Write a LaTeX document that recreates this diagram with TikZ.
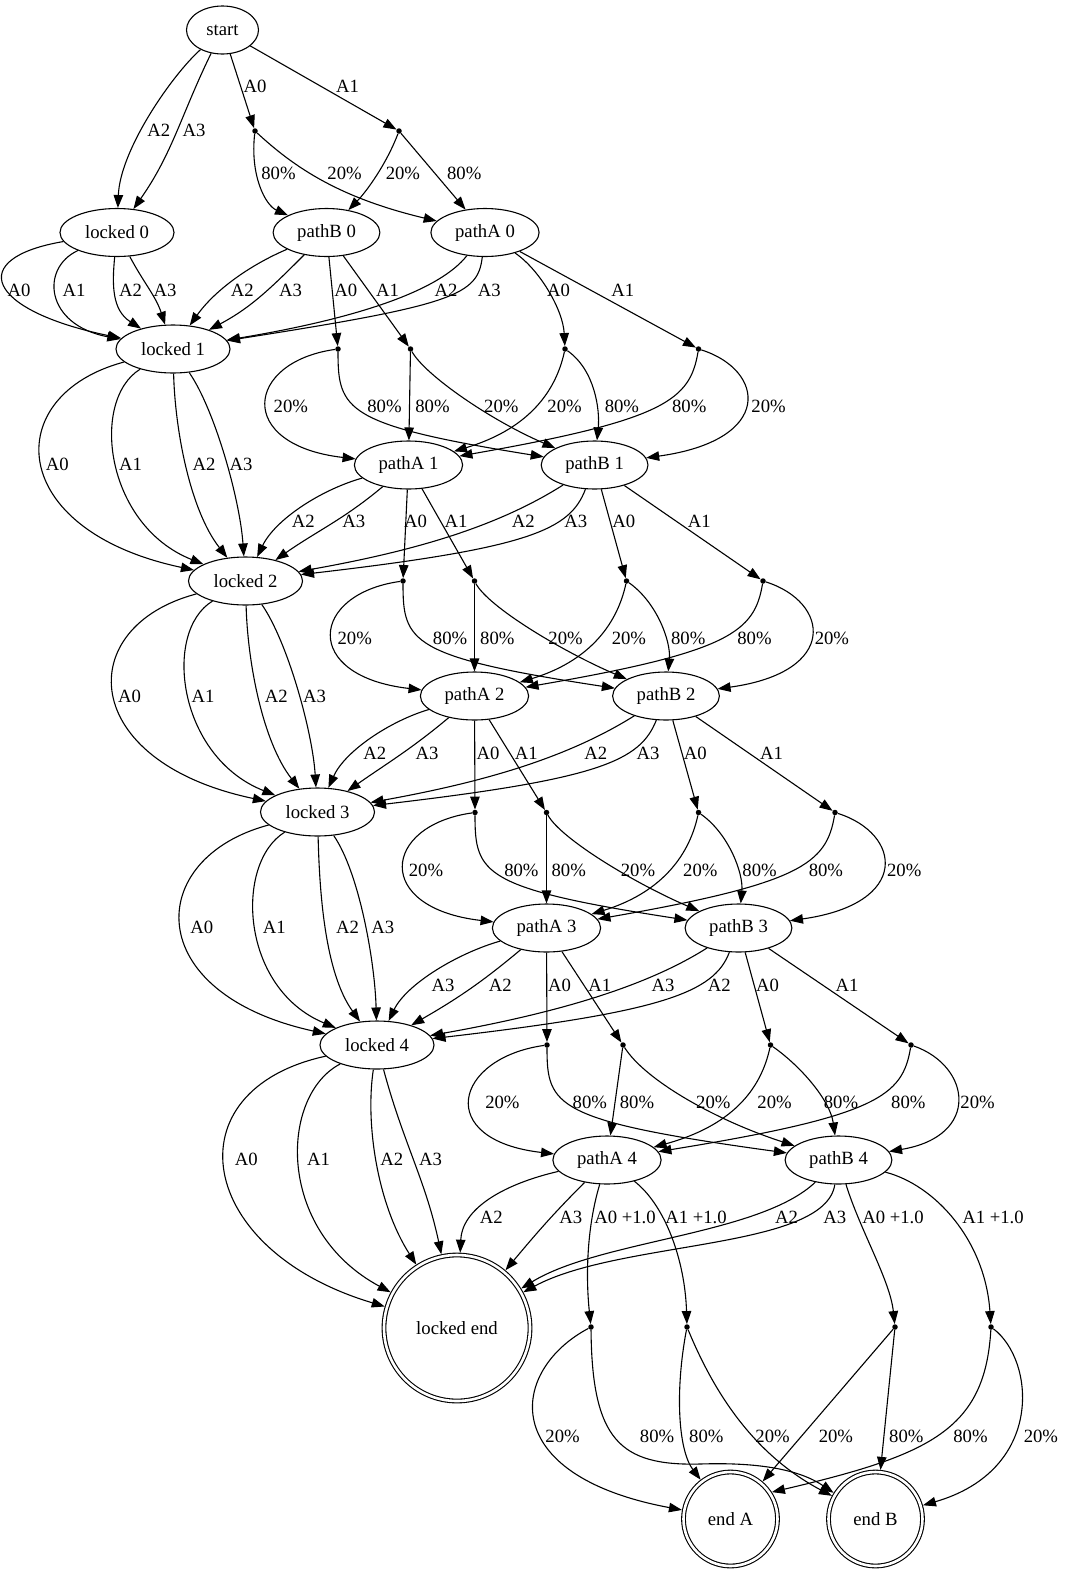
\documentclass[tikz,border=0pt]{standalone}
\usepackage{fontspec}
\setmainfont{Liberation Serif}
\usetikzlibrary{arrows.meta, shapes.geometric}

\begin{document}
\begin{tikzpicture}[
  x=1pt, y=-1pt,
  font=\fontsize{18.7pt}{22pt}\selectfont,
  state/.style={ellipse, draw, line width=1.1pt, inner xsep=8.4pt, inner ysep=0pt, minimum height=48pt},
  final/.style={circle, draw, line width=1.1pt, double, double distance=2.6pt, inner sep=0pt, outer sep=2.4pt},
  chance/.style={circle, fill, inner sep=0pt, minimum size=5.5pt},
  trans/.style={-{Triangle[length=13pt, width=9.5pt]}, line width=1.1pt},
  lbl/.style={inner sep=0pt}
]
\path[use as bounding box, fill=white] (0,0) rectangle (1066,1575);

\node[state, minimum width=72pt] (start) at (222.5,30) {start};
\node[state] (lk0) at (117,232.5) {locked 0};
\node[state] (pb0) at (326.5,232.5) {pathB 0};
\node[state] (pa0) at (485,232.5) {pathA 0};
\node[state] (lk1) at (173,349) {locked 1};
\node[state] (pa1) at (408.5,465) {pathA 1};
\node[state] (pb1) at (594.6,465) {pathB 1};
\node[state] (lk2) at (245.5,581) {locked 2};
\node[state] (pa2) at (474.5,696) {pathA 2};
\node[state] (pb2) at (666,696) {pathB 2};
\node[state] (lk3) at (317.5,812) {locked 3};
\node[state] (pa3) at (546.5,928) {pathA 3};
\node[state] (pb3) at (738.5,928) {pathB 3};
\node[state] (lk4) at (377,1045) {locked 4};
\node[state] (pa4) at (607,1160) {pathA 4};
\node[state] (pb4) at (838.5,1160) {pathB 4};
\node[final, minimum size=146pt] (lkend) at (457,1328) {locked end};
\node[final, minimum size=94pt] (endA) at (730.5,1519) {end A};
\node[final, minimum size=94pt] (endB) at (875.5,1519) {end B};

\node[chance] (cs0) at (255,131) {};
\node[chance] (cs1) at (399,131) {};
\node[chance] (cb0a0) at (338,349) {};
\node[chance] (cb0a1) at (410.5,349) {};
\node[chance] (ca0a0) at (565,349) {};
\node[chance] (ca0a1) at (698.5,349) {};
\node[chance] (ca1a0) at (403,581) {};
\node[chance] (ca1a1) at (474.5,581) {};
\node[chance] (cb1a0) at (626.5,581) {};
\node[chance] (cb1a1) at (763,581) {};
\node[chance] (ca2a0) at (475,812.5) {};
\node[chance] (ca2a1) at (546.5,812.5) {};
\node[chance] (cb2a0) at (698.5,812.5) {};
\node[chance] (cb2a1) at (835,812.5) {};
\node[chance] (ca3a0) at (547,1045) {};
\node[chance] (ca3a1) at (623,1045) {};
\node[chance] (cb3a0) at (770.5,1045) {};
\node[chance] (cb3a1) at (911,1045) {};
\node[chance] (ca4a0) at (591,1327) {};
\node[chance] (ca4a1) at (687,1327) {};
\node[chance] (cb4a0) at (895,1327) {};
\node[chance] (cb4a1) at (991,1327) {};

\draw[trans] (start) .. controls (172,75) and (120,150) .. (lk0) node[lbl] at (158.9,130) {A2};
\draw[trans] (start) to[out=244,in=55] (lk0) node[lbl] at (194,130) {A3};
\draw[trans] (start) -- (cs0) node[lbl] at (255,86.5) {A0};
\draw[trans] (start) -- (cs1) node[lbl] at (347.6,86.5) {A1};
\draw[trans] (cs0) .. controls (250,175) and (265,205) .. (pb0) node[lbl] at (278.5,173.5) {80\%};
\draw[trans] (cs0) .. controls (295,168) and (340,198) .. (pa0) node[lbl] at (344.6,173.5) {20\%};
\draw[trans] (cs1) .. controls (386,165) and (366,192) .. (pb0) node[lbl] at (402.9,173.5) {20\%};
\draw[trans] (cs1) -- (pa0) node[lbl] at (464.2,173.5) {80\%};

\draw[trans] (lk0) .. controls (-34,258) and (-15,310) .. (lk1) node[lbl] at (19,290) {A0};
\draw[trans] (lk0) .. controls (40,268) and (45,325) .. (lk1) node[lbl] at (74,290) {A1};
\draw[trans] (lk0) .. controls (112,285) and (112,310) .. (lk1) node[lbl] at (130.5,290) {A2};
\draw[trans] (lk0) to[out=-62,in=108] (lk1) node[lbl] at (165,290) {A3};
\draw[trans] (pb0) .. controls (250,265) and (215,290) .. (lk1) node[lbl] at (242.3,290) {A2};
\draw[trans] (pb0) to[out=225,in=28] (lk1) node[lbl] at (290.5,290) {A3};
\draw[trans] (pb0) -- (cb0a0) node[lbl] at (345.8,290) {A0};
\draw[trans] (pb0) -- (cb0a1) node[lbl] at (387.5,290) {A1};
\draw[trans] (pa0) .. controls (440,290) and (360,318) .. (lk1) node[lbl] at (446,290) {A2};
\draw[trans] (pa0) .. controls (478,295) and (455,305) .. (lk1) node[lbl] at (489.3,290) {A3};
\draw[trans] (pa0) .. controls (540,270) and (563,310) .. (ca0a0) node[lbl] at (558.6,290) {A0};
\draw[trans] (pa0) -- (ca0a1) node[lbl] at (622.9,290) {A1};

\draw[trans] (cb0a0) .. controls (245,362) and (235,445) .. (pa1) node[lbl] at (290.8,406) {20\%};
\draw[trans] (cb0a0) .. controls (338,410) and (345,425) .. (pb1) node[lbl] at (384.5,406) {80\%};
\draw[trans] (cb0a1) -- (pa1) node[lbl] at (432.5,406) {80\%};
\draw[trans] (cb0a1) .. controls (425,375) and (490,420) .. (pb1) node[lbl] at (501.3,406) {20\%};
\draw[trans] (ca0a0) .. controls (555,395) and (525,430) .. (pa1) node[lbl] at (564.6,406) {20\%};
\draw[trans] (ca0a0) .. controls (595,370) and (600,410) .. (pb1) node[lbl] at (621.9,406) {80\%};
\draw[trans] (ca0a1) .. controls (690,400) and (665,420) .. (pa1) node[lbl] at (689.2,406) {80\%};
\draw[trans] (ca0a1) .. controls (765,370) and (775,440) .. (pb1) node[lbl] at (768.6,406) {20\%};

\draw[trans] (lk1) .. controls (0,395) and (5,530) .. (lk2) node[lbl] at (57.3,464.5) {A0};
\draw[trans] (lk1) .. controls (90,400) and (105,525) .. (lk2) node[lbl] at (130.6,464.5) {A1};
\draw[trans] (lk1) .. controls (175,430) and (190,510) .. (lk2) node[lbl] at (204,464.5) {A2};
\draw[trans] (lk1) .. controls (215,410) and (240,500) .. (lk2) node[lbl] at (241.1,464.5) {A3};
\draw[trans] (pa1) .. controls (320,490) and (275,520) .. (lk2) node[lbl] at (303.4,521.5) {A2};
\draw[trans] (pa1) to[out=-140,in=35] (lk2) node[lbl] at (353.7,521.5) {A3};
\draw[trans] (pa1) -- (ca1a0) node[lbl] at (415.5,521.5) {A0};
\draw[trans] (pa1) -- (ca1a1) node[lbl] at (456.1,521.5) {A1};
\draw[trans] (pb1) .. controls (500,525) and (420,550) .. (lk2) node[lbl] at (523.4,521.5) {A2};
\draw[trans] (pb1) .. controls (570,530) and (530,548) .. (lk2) node[lbl] at (575.7,521.5) {A3};
\draw[trans] (pb1) -- (cb1a0) node[lbl] at (623.9,521.5) {A0};
\draw[trans] (pb1) -- (cb1a1) node[lbl] at (699.3,521.5) {A1};

\draw[trans] (ca1a0) .. controls (310,594) and (301,676) .. (pa2) node[lbl] at (354.7,638) {20\%};
\draw[trans] (ca1a0) .. controls (403,642) and (410,657) .. (pb2) node[lbl] at (450.1,638) {80\%};
\draw[trans] (ca1a1) -- (pa2) node[lbl] at (497.3,638) {80\%};
\draw[trans] (ca1a1) .. controls (488.5,607) and (561.4,651) .. (pb2) node[lbl] at (565.6,638) {20\%};
\draw[trans] (cb1a0) .. controls (616.5,627) and (586.5,662) .. (pa2) node[lbl] at (628.9,638) {20\%};
\draw[trans] (cb1a0) .. controls (656.5,602) and (671,641) .. (pb2) node[lbl] at (688.2,638) {80\%};
\draw[trans] (cb1a1) .. controls (754.5,632) and (729.5,652) .. (pa2) node[lbl] at (754.5,638) {80\%};
\draw[trans] (cb1a1) .. controls (829.5,602) and (839.5,672) .. (pb2) node[lbl] at (831.9,638) {20\%};

\draw[trans] (lk2) .. controls (72.5,626.5) and (77.5,761.5) .. (lk3) node[lbl] at (129.6,696.5) {A0};
\draw[trans] (lk2) .. controls (162.5,631.5) and (177.5,756.5) .. (lk3) node[lbl] at (203,696.5) {A1};
\draw[trans] (lk2) .. controls (247.5,661.5) and (262.5,741.5) .. (lk3) node[lbl] at (276.3,696.5) {A2};
\draw[trans] (lk2) .. controls (287.5,641.5) and (312.5,731.5) .. (lk3) node[lbl] at (314.5,696.5) {A3};
\draw[trans] (pa2) .. controls (390,721) and (345,751) .. (lk3) node[lbl] at (374.8,753.5) {A2};
\draw[trans] (pa2) to[out=-140,in=35] (lk3) node[lbl] at (427,753.5) {A3};
\draw[trans] (pa2) -- (ca2a0) node[lbl] at (488,753.5) {A0};
\draw[trans] (pa2) -- (ca2a1) node[lbl] at (526.4,753.5) {A1};
\draw[trans] (pb2) .. controls (570,756) and (490,781) .. (lk3) node[lbl] at (595.8,753.5) {A2};
\draw[trans] (pb2) .. controls (640,761) and (600,779) .. (lk3) node[lbl] at (648,753.5) {A3};
\draw[trans] (pb2) -- (cb2a0) node[lbl] at (695.3,753.5) {A0};
\draw[trans] (pb2) -- (cb2a1) node[lbl] at (771.6,753.5) {A1};

\draw[trans] (ca2a0) .. controls (382,825.5) and (373,908) .. (pa3) node[lbl] at (426,870) {20\%};
\draw[trans] (ca2a0) .. controls (475,873.5) and (482,888.5) .. (pb3) node[lbl] at (521.4,870) {80\%};
\draw[trans] (ca2a1) -- (pa3) node[lbl] at (568.7,870) {80\%};
\draw[trans] (ca2a1) .. controls (560.5,838.5) and (633.9,883) .. (pb3) node[lbl] at (638,870) {20\%};
\draw[trans] (cb2a0) .. controls (688.5,858.5) and (658.5,893.5) .. (pa3) node[lbl] at (700.3,870) {20\%};
\draw[trans] (cb2a0) .. controls (728.5,833.5) and (743.5,873) .. (pb3) node[lbl] at (759.6,870) {80\%};
\draw[trans] (cb2a1) .. controls (826.5,863.5) and (801.5,883.5) .. (pa3) node[lbl] at (825.9,870) {80\%};
\draw[trans] (cb2a1) .. controls (901.5,833.5) and (911.5,903.5) .. (pb3) node[lbl] at (904.2,870) {20\%};

\draw[trans] (lk3) .. controls (144.5,858) and (140,993) .. (lk4) node[lbl] at (201.9,927.5) {A0};
\draw[trans] (lk3) .. controls (234.5,863) and (240,988) .. (lk4) node[lbl] at (274.3,927.5) {A1};
\draw[trans] (lk3) .. controls (319.5,893) and (325,973) .. (lk4) node[lbl] at (347.6,927.5) {A2};
\draw[trans] (lk3) .. controls (359.5,873) and (375,963) .. (lk4) node[lbl] at (382.8,927.5) {A3};
\draw[trans] (pa3) .. controls (458,953) and (406.5,984) .. (lk4) node[lbl] at (443.1,985.5) {A3};
\draw[trans] (pa3) to[out=-140,in=30] (lk4) node[lbl] at (500.3,985.5) {A2};
\draw[trans] (pa3) -- (ca3a0) node[lbl] at (559.6,985.5) {A0};
\draw[trans] (pa3) -- (ca3a1) node[lbl] at (599.8,985.5) {A1};
\draw[trans] (pb3) .. controls (644,988) and (551.5,1014) .. (lk4) node[lbl] at (663.1,985.5) {A3};
\draw[trans] (pb3) .. controls (714,993) and (661.5,1012) .. (lk4) node[lbl] at (719.4,985.5) {A2};
\draw[trans] (pb3) -- (cb3a0) node[lbl] at (767.6,985.5) {A0};
\draw[trans] (pb3) -- (cb3a1) node[lbl] at (847,985.5) {A1};

\draw[trans] (ca3a0) .. controls (454,1058) and (433.5,1140) .. (pa4) node[lbl] at (502.4,1102) {20\%};
\draw[trans] (ca3a0) .. controls (547,1106) and (554,1121) .. (pb4) node[lbl] at (589.8,1102) {80\%};
\draw[trans] (ca3a1) -- (pa4) node[lbl] at (637,1102) {80\%};
\draw[trans] (ca3a1) .. controls (645,1080) and (715,1120) .. (pb4) node[lbl] at (713.3,1102) {20\%};
\draw[trans] (cb3a0) .. controls (760.5,1091) and (730.5,1126) .. (pa4) node[lbl] at (774.6,1102) {20\%};
\draw[trans] (cb3a0) .. controls (800.5,1066) and (830,1100) .. (pb4) node[lbl] at (841,1102) {80\%};
\draw[trans] (cb3a1) .. controls (902.5,1096) and (877.5,1116) .. (pa4) node[lbl] at (908.3,1102) {80\%};
\draw[trans] (cb3a1) .. controls (971,1066) and (981,1136) .. (pb4) node[lbl] at (977.6,1102) {20\%};

\draw[trans] (lk4) .. controls (170,1090) and (195,1250) .. (lkend) node[lbl] at (246.2,1159.5) {A0};
\draw[trans] (lk4) .. controls (280,1095) and (275,1230) .. (lkend) node[lbl] at (318.5,1159.5) {A1};
\draw[trans] (lk4) .. controls (365,1125) and (378,1205) .. (lkend) node[lbl] at (391.8,1159.5) {A2};
\draw[trans] (lk4) to[out=-75,in=102] (lkend) node[lbl] at (430.5,1159.5) {A3};
\draw[trans] (pa4) .. controls (500,1185) and (462,1210) .. (lkend) node[lbl] at (491.3,1217.5) {A2};
\draw[trans] (pa4) to[out=-135,in=50] (lkend) node[lbl] at (570.7,1217.5) {A3};
\draw[trans] (pa4) .. controls (586,1230) and (586,1280) .. (ca4a0) node[lbl] at (625,1217.5) {A0 +1.0};
\draw[trans] (pa4) .. controls (665,1205) and (685,1260) .. (ca4a1) node[lbl] at (696,1217.5) {A1 +1.0};
\draw[trans] (pb4) .. controls (760,1235) and (600,1240) .. (lkend) node[lbl] at (786.5,1217.5) {A2};
\draw[trans] (pb4) .. controls (825,1250) and (620,1240) .. (lkend) node[lbl] at (834.9,1217.5) {A3};
\draw[trans] (pb4) .. controls (860,1230) and (890,1280) .. (cb4a0) node[lbl] at (893,1217.5) {A0 +1.0};
\draw[trans] (pb4) .. controls (935,1185) and (985,1240) .. (cb4a1) node[lbl] at (993,1217.5) {A1 +1.0};

\draw[trans] (ca4a0) .. controls (510,1370) and (495,1475) .. (endA) node[lbl] at (562.6,1436) {20\%};
\draw[trans] (ca4a0) .. controls (592,1440) and (620,1466) .. (700,1464) .. controls (760,1462) and (800,1470) .. (endB.148) node[lbl] at (657.1,1436) {80\%};
\draw[trans] (ca4a1) .. controls (675,1390) and (678,1450) .. (endA) node[lbl] at (706.3,1436) {80\%};
\draw[trans] (ca4a1) .. controls (715,1395) and (755,1455) .. (endB) node[lbl] at (772.6,1436) {20\%};
\draw[trans] (cb4a0) -- (endA) node[lbl] at (835.9,1436) {20\%};
\draw[trans] (cb4a0) -- (endB) node[lbl] at (906.3,1436) {80\%};
\draw[trans] (cb4a1) .. controls (985,1430) and (930,1455) .. (endA.33) node[lbl] at (970.5,1436) {80\%};
\draw[trans] (cb4a1) .. controls (1035,1360) and (1045,1470) .. (endB) node[lbl] at (1040.9,1436) {20\%};

\end{tikzpicture}
\end{document}
